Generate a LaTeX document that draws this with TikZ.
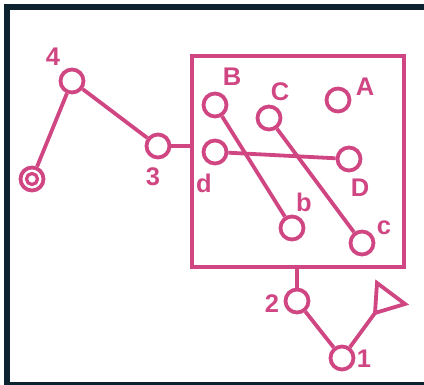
\documentclass[tikz,border=0pt]{standalone}
\usepackage{fontspec}
\setmainfont{Liberation Sans}
\definecolor{pk}{RGB}{208,70,130}
\definecolor{frm}{RGB}{12,34,46}
\begin{document}
\begin{tikzpicture}[x=1pt,y=-1pt,
  vtx/.style={circle,draw=pk,line width=3.8pt,minimum size=23pt,inner sep=0pt,fill=white},
  lbl/.style={text=pk,font=\fontsize{25.5}{25.5}\selectfont\bfseries,inner sep=0pt},
  edge/.style={draw=pk,line width=3.8pt}]
\useasboundingbox (0,0) rectangle (424,385);
\begin{scope}
\clip (0,0) rectangle (424,385);
\draw[frm,line width=6pt] (430,7.5) -- (7,7.5) -- (7,385) -- (430,385);
\end{scope}
% box
\node[draw=pk,line width=3.8pt,minimum width=212pt,minimum height=211pt,inner sep=0pt] (box) at (298,161.5) {};
% nodes
\node[vtx] (n4) at (72,81) {};
\node[vtx] (n3) at (158,146) {};
\node[vtx] (dc) at (32,179) {};
\node[circle,draw=pk,line width=3.2pt,minimum size=11pt,inner sep=0pt] (dci) at (32,179) {};
\node[vtx] (B) at (215,105) {};
\node[vtx] (C) at (269,118) {};
\node[vtx] (A) at (338,100) {};
\node[vtx] (d) at (215,152) {};
\node[vtx] (D) at (349,159) {};
\node[vtx] (b) at (292,228) {};
\node[vtx] (c) at (362,243) {};
\node[vtx] (n2) at (297,301) {};
\node[vtx] (n1) at (342,358) {};
% labels
\node[lbl] (l4) at (53,57) {4};
\node[lbl] (l3) at (153,177) {3};
\node[lbl] (lB) at (232,77) {B};
\node[lbl] (lC) at (280,92) {C};
\node[lbl] (lA) at (365,87) {A};
\node[lbl] (ld) at (204,183) {d};
\node[lbl] (lD) at (360,188) {D};
\node[lbl] (lb) at (304,202) {b};
\node[lbl] (lc) at (384,228) {c};
\node[lbl] (l2) at (272,304) {2};
\node[lbl] (l1) at (364,359) {1};
% triangle
\coordinate (t1) at (377,283);
\coordinate (t2) at (405,304);
\coordinate (t3) at (375,313);
\draw[pk,line width=3.8pt,line join=miter] (t1) -- (t2) -- (t3) -- cycle;
% edges
\draw[edge] (n4) -- (dc);
\draw[edge] (n4) -- (n3);
\draw[edge] (n3) -- (n3 -| box.west);
\draw[edge] (B) -- (b);
\draw[edge] (C) -- (c);
\draw[edge] (d) -- (D);
\draw[edge] (n2 |- box.south) -- (n2);
\draw[edge] (n2) -- (n1);
\draw[edge] (n1) -- (t3);
\end{tikzpicture}
\end{document}
